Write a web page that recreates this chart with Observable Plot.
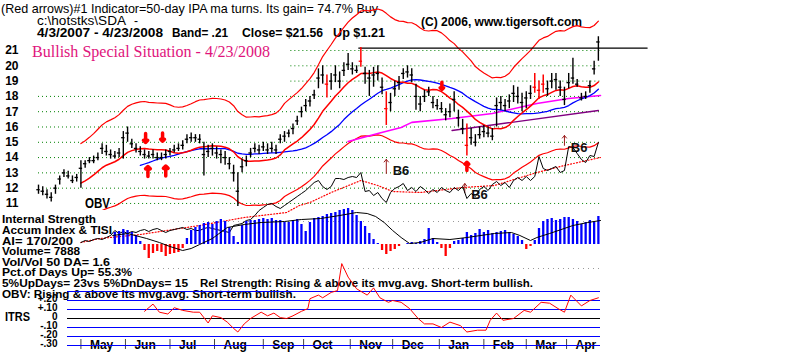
<!DOCTYPE html>
<html><head><meta charset="utf-8">
<script src="https://cdn.jsdelivr.net/npm/d3@7"></script>
<script src="https://cdn.jsdelivr.net/npm/@observablehq/plot@0.6"></script>
<style>
body{margin:0;background:#fff;}
#chart{position:relative;width:800px;height:352px;overflow:hidden;background:#fff;}
#chart svg{position:absolute;left:0;top:0;}
</style></head><body><div id="chart"></div>
<script>
const FONT = "Liberation Sans, Arial, Helvetica, sans-serif";
const SERIF = "Liberation Serif, Times New Roman, serif";

// ---------- DATA (trading-day index: 0 = 4/3/2007 ... 265 = 4/23/2008) ----------
const barDays = d3.range(0, 265, 2);
const close = [11.9,11.8,11.6,11.4,12.0,12.6,13.0,12.8,12.5,12.7,
 13.3,13.6,13.8,13.8,14.0,14.6,14.4,14.2,14.1,14.3,
 15.3,15.6,14.9,14.6,14.4,14.2,14.1,14.2,14.0,14.0,
 14.2,14.4,14.5,14.6,14.8,15.2,15.3,15.3,15.2,14.2,
 14.4,14.6,14.3,14.2,14.0,13.6,13.0,11.8,13.4,13.8,
 14.3,14.6,14.5,14.7,14.5,14.6,14.5,15.2,15.4,15.6,
 15.9,16.4,17.0,17.4,17.7,18.1,19.2,19.4,18.8,19.0,
 19.4,19.0,19.7,20.1,19.8,19.7,20.3,19.5,19.2,19.4,
 19.5,18.6,17.2,17.6,18.5,18.9,19.5,19.6,19.4,18.0,
 17.5,18.0,18.3,17.6,17.4,17.2,16.8,17.0,17.8,16.6,
 15.9,14.8,15.3,15.0,15.5,15.7,15.6,15.4,17.4,17.6,
 17.4,17.7,18.2,18.0,17.6,17.9,18.2,18.6,18.4,18.8,
 18.5,19.0,19.1,18.6,17.8,18.9,19.2,18.8,17.9,18.0,
 18.7,19.8,21.56];
const high = [12.2,12.1,11.9,11.7,12.2,12.8,13.2,13.1,12.8,12.9,
 13.8,13.8,14.0,14.1,14.3,14.9,14.8,14.5,14.4,14.6,
 15.7,16.0,15.2,14.9,14.7,14.5,14.4,14.5,14.3,14.3,
 14.5,14.6,14.8,14.9,15.1,15.5,15.6,15.5,15.5,15.0,
 14.8,14.9,14.7,14.5,14.4,14.0,13.5,13.0,13.9,14.1,
 14.6,14.9,14.8,15.0,14.9,15.0,14.8,15.5,15.7,15.8,
 16.2,16.7,17.3,17.8,18.0,18.4,19.8,20.0,19.4,19.5,
 20.0,19.6,20.2,20.8,20.2,20.0,21.2,19.9,19.7,19.9,
 20.0,19.2,18.3,18.2,19.0,19.3,19.8,20.0,19.8,18.8,
 18.0,18.4,18.6,18.0,17.8,17.6,17.2,17.5,18.3,17.1,
 16.5,16.2,15.9,15.5,16.0,16.1,16.0,15.9,17.9,18.0,
 17.8,18.1,18.7,18.6,18.2,18.3,18.7,19.5,19.0,19.4,
 19.0,19.5,19.5,19.0,18.6,19.5,20.5,19.1,18.2,18.3,
 19.0,20.3,21.9];
const low = [11.6,11.5,11.3,11.1,11.6,12.2,12.7,12.6,12.3,12.4,
 12.0,13.3,13.6,13.6,13.8,14.2,14.1,13.9,13.9,14.0,
 13.9,15.0,14.6,14.3,14.1,13.9,13.9,13.9,13.8,13.8,
 13.9,14.1,14.3,14.4,14.5,14.9,15.0,15.0,14.9,12.8,
 14.0,14.1,13.9,13.6,13.5,13.2,12.4,10.8,13.0,13.4,
 14.0,14.3,14.2,14.4,14.2,14.3,14.2,14.9,15.0,15.3,
 15.5,16.1,16.6,17.0,17.3,17.8,18.5,18.8,17.9,18.4,
 18.9,18.5,19.3,19.7,19.4,19.5,19.9,18.8,18.0,18.6,
 19.0,18.1,16.1,17.0,18.0,18.4,19.1,19.2,18.9,17.1,
 17.0,17.6,18.0,17.2,17.1,16.9,16.4,16.6,17.0,16.0,
 15.5,14.1,14.8,14.7,15.2,15.3,15.3,15.1,16.0,17.1,
 17.0,17.2,17.6,17.5,17.0,17.2,17.8,18.2,17.8,18.2,
 18.0,18.5,18.4,18.0,17.4,18.5,18.8,18.6,17.7,17.8,
 18.2,19.4,20.3];
const redBarDays = [136, 152, 164, 202, 234, 236, 238];
const priceTicks = [11,12,13,14,15,16,17,18,19,20,21];

const magentaDay = [146,160,171,176,195,214,235,250,265];
const magentaVal = [15.05,15.57,15.97,16.3,16.56,16.88,17.54,17.86,18.06];
const trendDay = [195, 264];
const trendVal = [15.77, 17.08];
const resistDay = [151, 287];
const resistVal = [21.16, 21.16];

const bigArrowDay  = [50.5, 58.5, 51.6, 60, 190.2, 202];
const bigArrowFrom = [15.58, 15.6, 12.76, 12.8, 18.93, 13.16];
const bigArrowTo   = [14.99, 15.07, 13.42, 13.45, 18.45, 13.7];
const sigArrowDay  = [164, 201, 248];
const sigArrowFrom = [12.96, 11.7, 14.8];
const sigArrowTo   = [13.88, 12.3, 15.44];
const b6Day   = [167, 204, 251];
const b6Price = [13.12, 11.56, 14.63];

// OBV (arbitrary units), every other day from day 20
const obvDays = d3.range(20, 265, 2);
const obv = [-22,-20,-21,-19,-18,-19,-17,-15,-10,-13,
 -11,-13,-11,-12,-10,-9,-11,-9,-8,-10,
 -12,-10,-9,-8,-7,-9,-8,-10,-10,-8,
 -7,-8,-9,-10,-11,-12,-5,-4,-3,0,
 1,5,10,13,16,17,14,12,15,18,
 21,24,27,30,34,38,40,34,31,34,
 42,42,41,43,44,43,48,29,30,25,
 28,22,18,28,32,34,37,30,33,29,
 34,31,27,31,28,33,30,28,33,30,
 34,22,27,24,31,34,30,36,39,35,
 38,33,40,43,40,44,40,44,64,52,
 50,52,54,48,50,74,73,67,61,58,
 65,64,78];
const obvMaDay = [20,29,48,76,97,117,123,128,138,152,160,167,180,200,215,235,248,265];
const obvMaVal = [-22,-18,-14,-5,3,8,15,18,28,40,35,29,28,33,35,48,55,63];

// Accumulation Index (hundredths), every other day from day 36
const aiDays = d3.range(36, 265, 2);
const aiVals = [12,13,15,14,12,9,3,-6,-14,-9,
 -7,-8,-12,-10,-9,-8,-4,6,14,17,
 19,21,22,20,23,25,23,17,8,2,
 19,23,24,24,25,26,25,26,24,24,
 22,22,24,25,20,13,22,26,27,28,
 30,31,32,34,35,36,34,29,23,18,
 11,5,1,-6,-10,-7,-5,-2,0,1,
 2,1,3,5,16,6,2,-4,-12,-4,
 3,4,6,12,9,11,15,12,14,11,
 12,13,14,12,10,8,4,-5,-2,4,
 16,23,25,26,24,25,27,27,25,23,
 20,22,24,22,28];
const tisiDay = [35,42,51,57,62,68,72,76,82,89,97,105,116,124,133,142,150,155,159,163,167,171,175,180,186,194,202,215,223,227,232,235,241,252,259,265];
const tisiVal = [9,11,6,2,-2,-6,-4,0,6,17,20,22,23,25,26,29,32,31,28,22,14,7,1,2,6,5,7,11,12,9,4,7,11,19,22,24];

// ITRS
const itrsDay = [50,54,57,61,64,68,73,76,80,82,86,89,92,94,97,100,105,108,111,114,117,120,124,127,128,132,134,138,141,143,146,150,155,158,161,165,167,171,175,179,182,186,190,194,199,202,207,211,213,216,219,224,229,232,237,241,245,248,251,256,260,264];
const itrsVal = [.08,.16,.07,.05,.12,.09,.07,.07,-.05,.03,.01,-.04,-.11,-.15,-.06,0,.07,.03,.06,.01,0,.03,.08,.11,.22,.26,.23,.29,.31,.61,.46,.33,.26,.34,.23,.18,.2,.18,.11,0,-.06,-.06,-.1,-.04,-.08,-.15,-.13,-.13,-.02,.06,-.02,0,.09,.07,.18,.17,.11,.07,.26,.14,.2,.23];
const itrsLevels = [-0.3,-0.2,-0.1,0,0.1,0.2,0.3];
const itrsTickVals = [0.2,0.1,0,-0.1,-0.2,-0.3];
const itrsTickText = ["+.20","+.10","0","-.10","-.20","-.30"];

const monthNames = ["May","Jun","Jul","Aug","Sep","Oct","Nov","Dec","Jan","Feb","Mar","Apr"];
const monthStart = [20,41,62,83,106,125,147,167,189,210,230,249];

// ---------- TABLES ----------
const bars = barDays.map((d,i)=>({d, c:close[i], h:high[i], l:low[i], red: redBarDays.includes(d)}));
function sma(vals,k){ return vals.map((v,i)=> i<k-1 ? null : d3.mean(vals.slice(i-k+1,i+1))); }
const ma21 = sma(close, 11), ma50 = sma(close, 25);
const rows21 = barDays.map((d,i)=>({d, m:ma21[i]})).filter(r=>r.m!=null);
const rows50 = barDays.map((d,i)=>({d, m:ma50[i]})).filter(r=>r.m!=null);
const band = 0.21;
const rowsUp = rows21.map(r=>({d:r.d, v:r.m*(1+band)}));
const rowsDn = rows21.map(r=>({d:r.d, v:r.m*(1-band)}));
const zip = (a,b)=>a.map((x,i)=>({x, y:b[i]}));
const bigArrows = bigArrowDay.map((d,i)=>({d, f:bigArrowFrom[i], t:bigArrowTo[i]}));
const sigArrows = sigArrowDay.map((d,i)=>({d, f:sigArrowFrom[i], t:sigArrowTo[i]}));
const b6 = zip(b6Day, b6Price);
const obvRows = zip(obvDays, obv);
const aiRows = zip(aiDays, aiVals);

const chart = document.getElementById("chart");

// ---------- static text ----------
const textSpecs = [
 {t:"(Red arrows)#1 Indicator=50-day IPA ma turns. Its gain= 74.7% Buy", x:1, y:12.5, w:377, s:13, b:"normal"},
 {t:"c:\\hotstks\\SDA", x:37, y:25, w:89, s:12, b:"normal"},
 {t:"-", x:134, y:25, s:12, b:"normal"},
 {t:"4/3/2007 - 4/23/2008", x:37, y:36.5, w:126, s:12},
 {t:"Band= .21", x:172, y:36.5, w:56, s:12},
 {t:"Close= $21.56", x:242, y:36.5, w:81, s:12},
 {t:"Up $1.21", x:333, y:36.5, w:52, s:12},
 {t:"(C) 2006, www.tigersoft.com", x:421, y:25.5, w:161, s:12},
 {t:"Bullish Special Situation - 4/23/2008", x:32, y:56.5, w:238, s:16, b:"normal", f:SERIF, c:"#e0147c"},
 {t:"OBV", x:85, y:207.5, w:25, s:14},
 {t:"Internal Strength", x:2, y:222.5, w:94, s:11},
 {t:"Accum Index & TISI", x:2, y:233.5, w:110, s:11},
 {t:"AI= 170/200", x:2, y:244.5, w:71, s:11},
 {t:"Volume= 7888", x:2, y:255, w:78, s:11},
 {t:"Vol/Vol 50 DA= 1.6", x:2, y:265.5, w:108, s:11},
 {t:"Pct.of Days Up= 55.3%", x:2, y:276, w:130, s:11},
 {t:"5%UpDays= 23vs 5%DnDays= 15", x:2, y:287, w:186, s:11},
 {t:"Rel Strength: Rising & above its mvg.avg. Short-term bullish.", x:200, y:287, w:333, s:11},
 {t:"OBV: Rising & above its mvg.avg. Short-term bullish.", x:2, y:297.5, w:294, s:11},
 {t:"ITRS", x:5, y:321, w:25, s:12}
];
const svgL = d3.create("svg").attr("width",800).attr("height",352);
for (const s of textSpecs) {
  const t = svgL.append("text").attr("x",s.x).attr("y",s.y)
    .attr("font-family", s.f||FONT).attr("font-size", s.s)
    .attr("font-weight", s.b||"bold").attr("fill", s.c||"#000").text(s.t);
  if (s.w) t.attr("textLength", s.w).attr("lengthAdjust","spacingAndGlyphs");
}
chart.appendChild(svgL.node());

const base = {width:800, height:352, style:{background:"transparent", overflow:"visible"}};
const grid = {stroke:"#008000", strokeDasharray:"1,3", strokeWidth:1};

// ---------- price panel ----------
chart.appendChild(Plot.plot({...base,
  marginLeft:38, marginRight:200, marginTop:0, marginBottom:142,
  x:{domain:[0,265], axis:null}, y:{domain:[10.54,24.27], axis:null},
  marks:[
    Plot.ruleY(priceTicks.filter(p=>p>=12 && p<=18), grid),
    Plot.ruleY(priceTicks.filter(p=>p>=19), {...grid, x1:119, x2:265}),
    Plot.ruleY(priceTicks.filter(p=>p===11), {...grid, x1:34, x2:265}),
    Plot.line(rowsUp, {x:"d", y:"v", stroke:"#ff0000", strokeWidth:1.2, clip:true}),
    Plot.line(rowsDn, {x:"d", y:"v", stroke:"#ff0000", strokeWidth:1.2, clip:true}),
    Plot.line(zip(trendDay,trendVal), {x:"x", y:"y", stroke:"#800080", strokeWidth:1.4}),
    Plot.line(zip(magentaDay,magentaVal), {x:"x", y:"y", stroke:"#ff00ff", strokeWidth:1.6}),
    Plot.line(rows50, {x:"d", y:"m", stroke:"#0000ff", strokeWidth:1.3}),
    Plot.line(rows21, {x:"d", y:"m", stroke:"#ff0000", strokeWidth:1.5}),
    Plot.line(zip(resistDay,resistVal), {x:"x", y:"y", stroke:"#000", strokeWidth:1.2}),
    Plot.ruleX(bars, {filter:d=>!d.red, x:"d", y1:"l", y2:"h", stroke:"#000", strokeWidth:1.4}),
    Plot.ruleY(bars, {filter:d=>!d.red, y:"c", x1:d=>d.d-0.8, x2:d=>d.d+0.8, stroke:"#000", strokeWidth:1.3}),
    Plot.ruleX(bars, {filter:d=>d.red, x:"d", y1:"l", y2:"h", stroke:"#ff0000", strokeWidth:1.5}),
    Plot.ruleY(bars, {filter:d=>d.red, y:"c", x1:d=>d.d-0.8, x2:d=>d.d+0.8, stroke:"#ff0000", strokeWidth:1.3}),
    Plot.arrow(bigArrows, {x1:"d", x2:"d", y1:"f", y2:"t", stroke:"#ff0000", strokeWidth:3.5, headLength:5, headAngle:90}),
    Plot.arrow(sigArrows, {x1:"d", x2:"d", y1:"f", y2:"t", stroke:"#9b1b1b", strokeWidth:1, headLength:5, headAngle:80}),
    Plot.text(b6, {x:"x", y:"y", text:()=>"B6", textAnchor:"start", fontFamily:FONT, fontWeight:"bold", fontSize:13, fill:"#111"}),
    Plot.text(priceTicks, {y:d=>d, text:d=>String(d), frameAnchor:"left", dx:-20, textAnchor:"end", fontFamily:FONT, fontWeight:"bold", fontSize:12, fill:"#000"})
  ]}));

// ---------- OBV overlay ----------
chart.appendChild(Plot.plot({...base,
  marginLeft:38, marginRight:200, marginTop:130, marginBottom:102,
  x:{domain:[0,265], axis:null}, y:{domain:[-30,90], axis:null},
  marks:[
    Plot.line(zip(obvMaDay,obvMaVal), {x:"x", y:"y", stroke:"#ff0000", strokeWidth:1.2, strokeDasharray:"1,2"}),
    Plot.line(obvRows, {x:"x", y:"y", stroke:"#000", strokeWidth:1})
  ]}));

// ---------- Accumulation index panel ----------
chart.appendChild(Plot.plot({...base,
  marginLeft:113, marginRight:200, marginTop:221, marginBottom:84,
  x:{domain:[35.38,265], axis:null}, y:{domain:[-24,23], axis:null},
  marks:[
    Plot.ruleY([-24,23], {stroke:"#999", strokeDasharray:"1,4"}),
    Plot.ruleX(aiRows, {filter:d=>d.y>=0, x:"x", y:"y", stroke:"#0000ff", strokeWidth:2.3}),
    Plot.ruleX(aiRows, {filter:d=>d.y<0, x:"x", y:"y", stroke:"#ff0000", strokeWidth:2.3}),
    Plot.line(zip(tisiDay,tisiVal), {x:"x", y:"y", stroke:"#000", strokeWidth:1})
  ]}));

// ---------- month axis ----------
chart.appendChild(Plot.plot({...base,
  marginLeft:38, marginRight:200, marginTop:339, marginBottom:3,
  x:{domain:[0,265], axis:null}, y:{axis:null},
  marks:[
    Plot.tickX(monthStart, {x:d=>d, stroke:"#444", strokeWidth:1}),
    Plot.text(monthStart, {x:d=>d, text:(d,i)=>monthNames[i], frameAnchor:"middle", dx:9, dy:1, textAnchor:"start", fontFamily:FONT, fontWeight:"bold", fontSize:12, fill:"#000"})
  ]}));

// ---------- ITRS panel ----------
chart.appendChild(Plot.plot({...base,
  marginLeft:67, marginRight:200, marginTop:291, marginBottom:7,
  x:{domain:[13.68,265], axis:null}, y:{domain:[-0.3,0.3], axis:null},
  marks:[
    Plot.ruleY(itrsLevels.filter(v=>v!==0), {stroke:"#0000ff", strokeWidth:1.2}),
    Plot.ruleY(itrsLevels.filter(v=>v===0), {stroke:"#000", strokeWidth:1.2}),
    Plot.text(itrsTickVals, {y:d=>d, text:(d,i)=>itrsTickText[i], frameAnchor:"left", dx:-10, dy:1, textAnchor:"end", lineAnchor:"bottom", fontFamily:FONT, fontWeight:"bold", fontSize:10, fill:"#000"}),
    Plot.line(zip(itrsDay,itrsVal), {x:"x", y:"y", stroke:"#ff0000", strokeWidth:1})
  ]}));
</script></body></html>
